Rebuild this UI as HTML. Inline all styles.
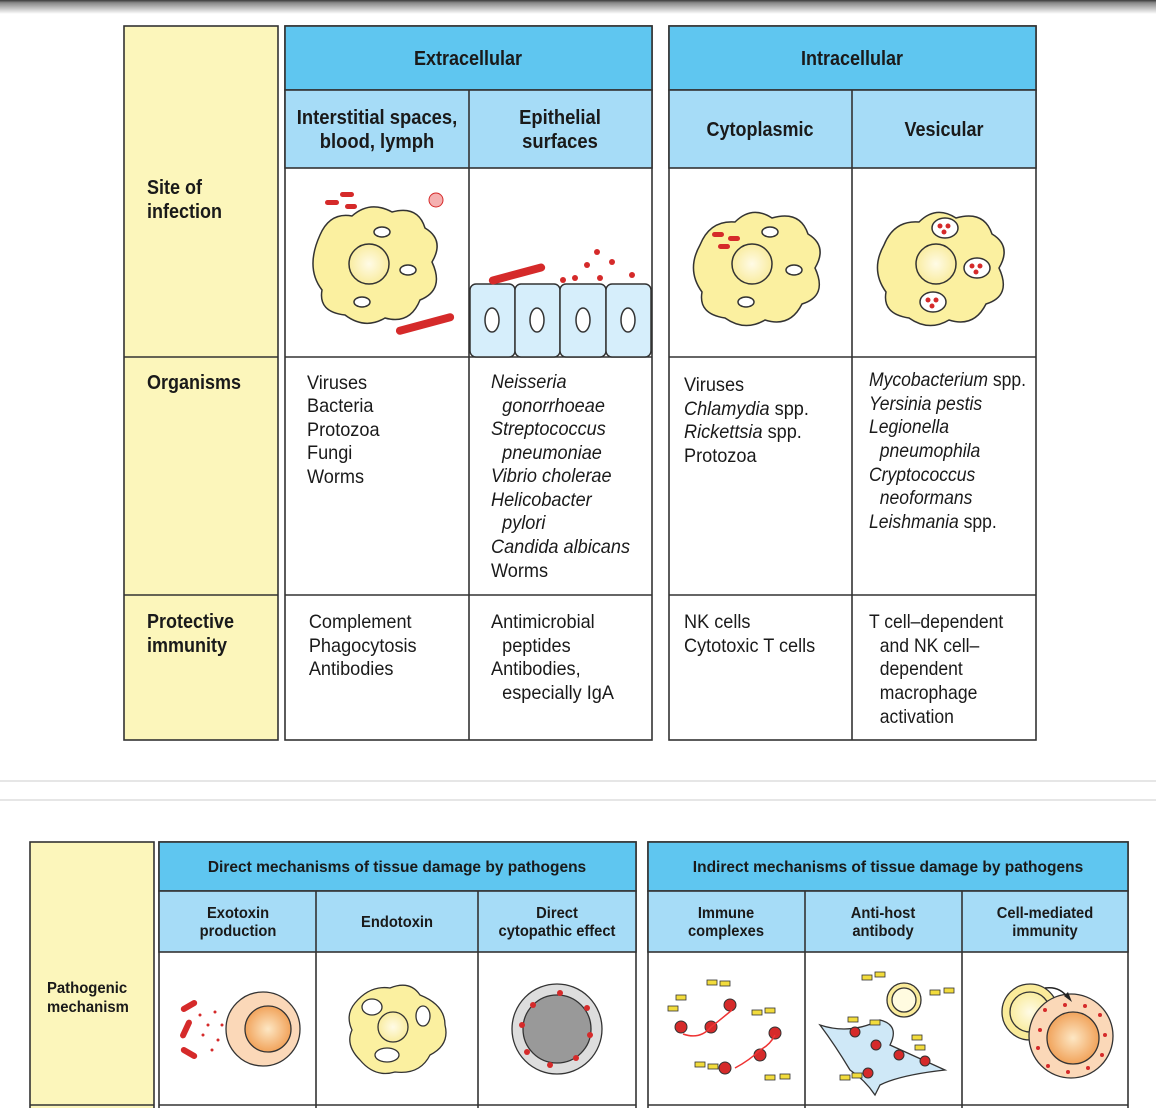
<!DOCTYPE html>
<html><head><meta charset="utf-8"><style>
html,body{margin:0;padding:0;background:#fff;width:1156px;height:1108px;overflow:hidden}
svg{display:block}
text{font-family:"Liberation Sans",sans-serif;fill:#1a1a1a}
.h{font-weight:bold;font-size:20px}
.b{font-size:19.5px}
.s{font-weight:bold;font-size:16px}
.i{font-style:italic}
</style></head><body>
<svg width="1156" height="1108" viewBox="0 0 1156 1108">
<defs>
<linearGradient id="sh" x1="0" y1="0" x2="0" y2="1"><stop offset="0" stop-color="#3a3a3a"/><stop offset="0.2" stop-color="#888"/><stop offset="1" stop-color="#fff"/></linearGradient>
<radialGradient id="or" cx="0.5" cy="0.5" r="0.5"><stop offset="0" stop-color="#fde7c4"/><stop offset="1" stop-color="#f1a35b"/></radialGradient>
<radialGradient id="yl" cx="0.5" cy="0.5" r="0.5"><stop offset="0" stop-color="#fffbe6"/><stop offset="1" stop-color="#f9eca0"/></radialGradient>
</defs>
<rect x="0" y="0" width="1156" height="14" fill="url(#sh)"/>
<g stroke="#333" stroke-width="1.6">
<rect x="124" y="26" width="154" height="714" fill="#fcf6bb"/>
<rect x="285" y="26" width="367" height="714" fill="#fff"/>
<rect x="669" y="26" width="367" height="714" fill="#fff"/>
<rect x="285" y="26" width="367" height="64" fill="#5fc6f0"/>
<rect x="669" y="26" width="367" height="64" fill="#5fc6f0"/>
<rect x="285" y="90" width="367" height="78" fill="#a6dcf7"/>
<rect x="669" y="90" width="367" height="78" fill="#a6dcf7"/>
<line x1="469" y1="90" x2="469" y2="740"/><line x1="852" y1="90" x2="852" y2="740"/>
<line x1="124" y1="357" x2="278" y2="357"/><line x1="285" y1="357" x2="652" y2="357"/><line x1="669" y1="357" x2="1036" y2="357"/>
<line x1="124" y1="595" x2="278" y2="595"/><line x1="285" y1="595" x2="652" y2="595"/><line x1="669" y1="595" x2="1036" y2="595"/>
<rect x="30" y="842" width="124" height="270" fill="#fcf6bb"/>
<rect x="159" y="842" width="477" height="270" fill="#fff"/>
<rect x="648" y="842" width="480" height="270" fill="#fff"/>
<rect x="159" y="842" width="477" height="49" fill="#5fc6f0"/>
<rect x="648" y="842" width="480" height="49" fill="#5fc6f0"/>
<rect x="159" y="891" width="477" height="61" fill="#a6dcf7"/>
<rect x="648" y="891" width="480" height="61" fill="#a6dcf7"/>
<line x1="316" y1="891" x2="316" y2="1108"/><line x1="478" y1="891" x2="478" y2="1108"/>
<line x1="805" y1="891" x2="805" y2="1108"/><line x1="962" y1="891" x2="962" y2="1108"/>
<line x1="30" y1="1105" x2="154" y2="1105"/><line x1="159" y1="1105" x2="636" y2="1105"/><line x1="648" y1="1105" x2="1128" y2="1105"/>
</g>
<line x1="0" y1="781" x2="1156" y2="781" stroke="#ccc"/>
<line x1="0" y1="800" x2="1156" y2="800" stroke="#ccc"/>

<g class="h" text-anchor="middle">
<text transform="translate(468,65) scale(0.9,1)">Extracellular</text>
<text transform="translate(852,65) scale(0.9,1)">Intracellular</text>
<text transform="translate(377,124) scale(0.92,1)">Interstitial spaces,</text>
<text transform="translate(377,148) scale(0.92,1)">blood, lymph</text>
<text transform="translate(560,124) scale(0.92,1)">Epithelial</text>
<text transform="translate(560,148) scale(0.92,1)">surfaces</text>
<text transform="translate(760,136) scale(0.9,1)">Cytoplasmic</text>
<text transform="translate(944,136) scale(0.9,1)">Vesicular</text>
</g>
<g class="h" transform="translate(147,0) scale(0.9,1)">
<text x="0" y="194">Site of</text><text x="0" y="218">infection</text>
<text x="0" y="389">Organisms</text>
<text x="0" y="628">Protective</text><text x="0" y="652">immunity</text>
</g>

<g class="b" transform="translate(307,0) scale(0.93,1)">
<text x="0" y="389">Viruses</text><text x="0" y="412">Bacteria</text><text x="0" y="436">Protozoa</text><text x="0" y="459">Fungi</text><text x="0" y="483">Worms</text>
<text x="2" y="628">Complement</text><text x="2" y="652">Phagocytosis</text><text x="2" y="675">Antibodies</text>
</g>
<g class="b" transform="translate(491,0) scale(0.93,1)">
<text x="0" y="388" class="i">Neisseria</text><text x="12" y="412" class="i">gonorrhoeae</text><text x="0" y="435" class="i">Streptococcus</text><text x="12" y="459" class="i">pneumoniae</text><text x="0" y="482" class="i">Vibrio cholerae</text><text x="0" y="506" class="i">Helicobacter</text><text x="12" y="529" class="i">pylori</text><text x="0" y="553" class="i">Candida albicans</text><text x="0" y="577">Worms</text>
<text x="0" y="628">Antimicrobial</text><text x="12" y="652">peptides</text><text x="0" y="675">Antibodies,</text><text x="12" y="699">especially IgA</text>
</g>
<g class="b" transform="translate(684,0) scale(0.93,1)">
<text x="0" y="391">Viruses</text><text x="0" y="415"><tspan class="i">Chlamydia</tspan> spp.</text><text x="0" y="438"><tspan class="i">Rickettsia</tspan> spp.</text><text x="0" y="462">Protozoa</text>
<text x="0" y="628">NK cells</text><text x="0" y="652">Cytotoxic T cells</text>
</g>
<g class="b" transform="translate(869,0) scale(0.9,1)">
<text x="0" y="386"><tspan class="i">Mycobacterium</tspan> spp.</text><text x="0" y="410" class="i">Yersinia pestis</text><text x="0" y="433" class="i">Legionella</text><text x="12" y="457" class="i">pneumophila</text><text x="0" y="481" class="i">Cryptococcus</text><text x="12" y="504" class="i">neoformans</text><text x="0" y="528"><tspan class="i">Leishmania</tspan> spp.</text>
<text x="0" y="628">T cell–dependent</text><text x="12" y="652">and NK cell–</text><text x="12" y="675">dependent</text><text x="12" y="699">macrophage</text><text x="12" y="723">activation</text>
</g>

<g class="s" text-anchor="middle">
<text transform="translate(397,872) scale(0.97,1)">Direct mechanisms of tissue damage by pathogens</text>
<text transform="translate(888,872) scale(0.97,1)">Indirect mechanisms of tissue damage by pathogens</text>
<text transform="translate(238,918) scale(0.92,1)">Exotoxin</text><text transform="translate(238,936) scale(0.92,1)">production</text>
<text transform="translate(397,927) scale(0.92,1)">Endotoxin</text>
<text transform="translate(557,918) scale(0.92,1)">Direct</text><text transform="translate(557,936) scale(0.92,1)">cytopathic effect</text>
<text transform="translate(726,918) scale(0.92,1)">Immune</text><text transform="translate(726,936) scale(0.92,1)">complexes</text>
<text transform="translate(883,918) scale(0.92,1)">Anti-host</text><text transform="translate(883,936) scale(0.92,1)">antibody</text>
<text transform="translate(1045,918) scale(0.92,1)">Cell-mediated</text><text transform="translate(1045,936) scale(0.92,1)">immunity</text>
</g>
<g class="s" transform="translate(47,0) scale(0.93,1)"><text x="0" y="993">Pathogenic</text><text x="0" y="1012">mechanism</text></g>

<g stroke="#333" stroke-width="1.5">
<path d="M320 235 Q330 212 352 216 Q370 200 392 212 Q418 205 425 228 Q445 240 432 262 Q445 290 420 300 Q410 325 385 318 Q365 330 345 315 Q318 312 322 290 Q305 268 320 235Z" fill="#fbf0a0"/>
<circle cx="369" cy="264" r="20" fill="url(#yl)"/>
<ellipse cx="382" cy="232" rx="8" ry="5" fill="#fff"/><ellipse cx="408" cy="270" rx="8" ry="5" fill="#fff"/><ellipse cx="362" cy="302" rx="8" ry="5" fill="#fff"/>
<path d="M700 245 Q710 220 735 222 Q752 205 772 218 Q800 210 808 234 Q828 246 815 268 Q828 296 802 304 Q790 328 765 320 Q745 332 725 318 Q698 314 702 292 Q686 270 700 245Z" fill="#fbf0a0"/>
<circle cx="752" cy="264" r="20" fill="url(#yl)"/>
<ellipse cx="770" cy="232" rx="8" ry="5" fill="#fff"/><ellipse cx="794" cy="270" rx="8" ry="5" fill="#fff"/><ellipse cx="746" cy="302" rx="8" ry="5" fill="#fff"/>
<path d="M884 245 Q894 220 919 222 Q936 205 956 218 Q984 210 992 234 Q1012 246 999 268 Q1012 296 986 304 Q974 328 949 320 Q929 332 909 318 Q882 314 886 292 Q870 270 884 245Z" fill="#fbf0a0"/>
<circle cx="936" cy="264" r="20" fill="url(#yl)"/>
<ellipse cx="945" cy="228" rx="13" ry="10" fill="#fff"/><ellipse cx="977" cy="268" rx="13" ry="10" fill="#fff"/><ellipse cx="933" cy="302" rx="13" ry="10" fill="#fff"/>
<rect x="470" y="284" width="45" height="73" rx="6" fill="#d6eefb"/><rect x="515" y="284" width="45" height="73" rx="6" fill="#d6eefb"/><rect x="560" y="284" width="46" height="73" rx="6" fill="#d6eefb"/><rect x="606" y="284" width="45" height="73" rx="6" fill="#d6eefb"/>
<ellipse cx="492" cy="320" rx="7" ry="12" fill="#fff"/><ellipse cx="537" cy="320" rx="7" ry="12" fill="#fff"/><ellipse cx="583" cy="320" rx="7" ry="12" fill="#fff"/><ellipse cx="628" cy="320" rx="7" ry="12" fill="#fff"/>
</g>
<g fill="#d52a2a">
<rect x="395" y="320" width="60" height="8" rx="4" transform="rotate(-15 425 324)"/>
<rect x="488" y="270" width="58" height="8" rx="4" transform="rotate(-15 517 274)"/>
<rect x="325" y="200" width="14" height="5" rx="2.5"/><rect x="340" y="192" width="14" height="5" rx="2.5"/><rect x="345" y="204" width="12" height="5" rx="2.5"/>
<circle cx="436" cy="200" r="7" fill="#f5b0b0" stroke="#d52a2a"/>
<circle cx="597" cy="252" r="3"/><circle cx="587" cy="265" r="3"/><circle cx="612" cy="262" r="3"/><circle cx="632" cy="275" r="3"/><circle cx="575" cy="278" r="3"/><circle cx="600" cy="278" r="3"/><circle cx="563" cy="280" r="3"/>
<rect x="712" y="232" width="12" height="5" rx="2.5"/><rect x="728" y="236" width="12" height="5" rx="2.5"/><rect x="718" y="244" width="12" height="5" rx="2.5"/>
<circle cx="940" cy="226" r="2.5"/><circle cx="948" cy="226" r="2.5"/><circle cx="944" cy="232" r="2.5"/>
<circle cx="972" cy="266" r="2.5"/><circle cx="980" cy="266" r="2.5"/><circle cx="976" cy="272" r="2.5"/>
<circle cx="928" cy="300" r="2.5"/><circle cx="936" cy="300" r="2.5"/><circle cx="932" cy="306" r="2.5"/>
</g>

<g stroke="#333" stroke-width="1.3">
<circle cx="263" cy="1029" r="37" fill="#fbd8b8"/><circle cx="268" cy="1029" r="23" fill="url(#or)"/>
<path d="M355 1003 Q370 985 390 988 Q410 980 420 995 Q445 1005 445 1025 Q450 1045 430 1055 Q420 1075 395 1072 Q375 1078 360 1060 Q345 1045 352 1030 Q345 1015 355 1003Z" fill="#fbf0a0"/>
<circle cx="393" cy="1027" r="15" fill="url(#yl)"/><ellipse cx="372" cy="1007" rx="10" ry="8" fill="#fff"/><ellipse cx="423" cy="1016" rx="7" ry="10" fill="#fff"/><ellipse cx="387" cy="1055" rx="12" ry="7" fill="#fff"/>
<circle cx="557" cy="1029" r="45" fill="#ddd"/><circle cx="557" cy="1029" r="34" fill="#999"/>
<circle cx="1030" cy="1012" r="28" fill="#faeb9a"/><circle cx="1030" cy="1012" r="20" fill="url(#yl)"/>
<circle cx="1071" cy="1036" r="42" fill="#fbd8b8"/><circle cx="1073" cy="1038" r="26" fill="url(#or)"/>
<path d="M820 1025 Q850 1035 880 1020 Q900 1025 890 1045 L945 1070 Q900 1075 880 1085 L875 1095 Q865 1080 850 1070 Q835 1045 820 1025Z" fill="#cfe8f7"/>
<circle cx="904" cy="1000" r="17" fill="#faeb9a"/><circle cx="904" cy="1000" r="12" fill="#fffbe0"/>
</g>
<g fill="#d52a2a">
<rect x="180" y="1003" width="18" height="6" rx="3" transform="rotate(-30 189 1006)"/><rect x="176" y="1026" width="20" height="6" rx="3" transform="rotate(-65 186 1029)"/><rect x="180" y="1050" width="18" height="6" rx="3" transform="rotate(30 189 1053)"/>
<circle cx="200" cy="1015" r="1.5"/><circle cx="208" cy="1025" r="1.5"/><circle cx="215" cy="1012" r="1.5"/><circle cx="203" cy="1035" r="1.5"/><circle cx="218" cy="1040" r="1.5"/><circle cx="212" cy="1050" r="1.5"/><circle cx="222" cy="1025" r="1.5"/>
<circle cx="560" cy="993" r="3"/><circle cx="587" cy="1008" r="3"/><circle cx="590" cy="1035" r="3"/><circle cx="576" cy="1058" r="3"/><circle cx="550" cy="1065" r="3"/><circle cx="527" cy="1052" r="3"/><circle cx="522" cy="1025" r="3"/><circle cx="533" cy="1005" r="3"/>
<circle cx="1045" cy="1010" r="2"/><circle cx="1065" cy="1005" r="2"/><circle cx="1085" cy="1006" r="2"/><circle cx="1100" cy="1015" r="2"/><circle cx="1105" cy="1035" r="2"/><circle cx="1102" cy="1055" r="2"/><circle cx="1088" cy="1068" r="2"/><circle cx="1068" cy="1072" r="2"/><circle cx="1048" cy="1066" r="2"/><circle cx="1038" cy="1048" r="2"/><circle cx="1040" cy="1030" r="2"/>
<circle cx="681" cy="1027" r="6" stroke="#333"/><circle cx="711" cy="1027" r="6" stroke="#333"/><circle cx="730" cy="1005" r="6" stroke="#333"/><circle cx="775" cy="1033" r="6" stroke="#333"/><circle cx="760" cy="1055" r="6" stroke="#333"/><circle cx="725" cy="1068" r="6" stroke="#333"/>
<circle cx="855" cy="1032" r="5" stroke="#333"/><circle cx="876" cy="1045" r="5" stroke="#333"/><circle cx="899" cy="1055" r="5" stroke="#333"/><circle cx="925" cy="1061" r="5" stroke="#333"/><circle cx="868" cy="1073" r="5" stroke="#333"/>
</g>
<g fill="#f2dc3c" stroke="#333" stroke-width="0.8">
<rect x="668" y="1006" width="10" height="5"/><rect x="676" y="995" width="10" height="5"/><rect x="707" y="980" width="10" height="5"/><rect x="720" y="981" width="10" height="5"/><rect x="752" y="1010" width="10" height="5"/><rect x="765" y="1008" width="10" height="5"/><rect x="695" y="1062" width="10" height="5"/><rect x="708" y="1064" width="10" height="5"/><rect x="765" y="1075" width="10" height="5"/><rect x="780" y="1074" width="10" height="5"/>
<rect x="862" y="975" width="10" height="5"/><rect x="875" y="972" width="10" height="5"/><rect x="930" y="990" width="10" height="5"/><rect x="944" y="988" width="10" height="5"/><rect x="848" y="1017" width="10" height="5"/><rect x="870" y="1020" width="10" height="5"/><rect x="840" y="1075" width="10" height="5"/><rect x="852" y="1073" width="10" height="5"/><rect x="912" y="1035" width="10" height="5"/><rect x="915" y="1045" width="10" height="5"/>
</g>
<g fill="none" stroke="#e33" stroke-width="1.5"><path d="M683 1034 Q700 1040 711 1027 Q720 1020 732 1010"/><path d="M735 1068 Q750 1060 760 1050 Q770 1045 775 1035"/></g>
<path d="M1045 988 Q1060 986 1068 998" fill="none" stroke="#222" stroke-width="1.5"/>
<path d="M1064 996 L1072 1002 L1068 992Z" fill="#222"/>
</svg>
</body></html>
